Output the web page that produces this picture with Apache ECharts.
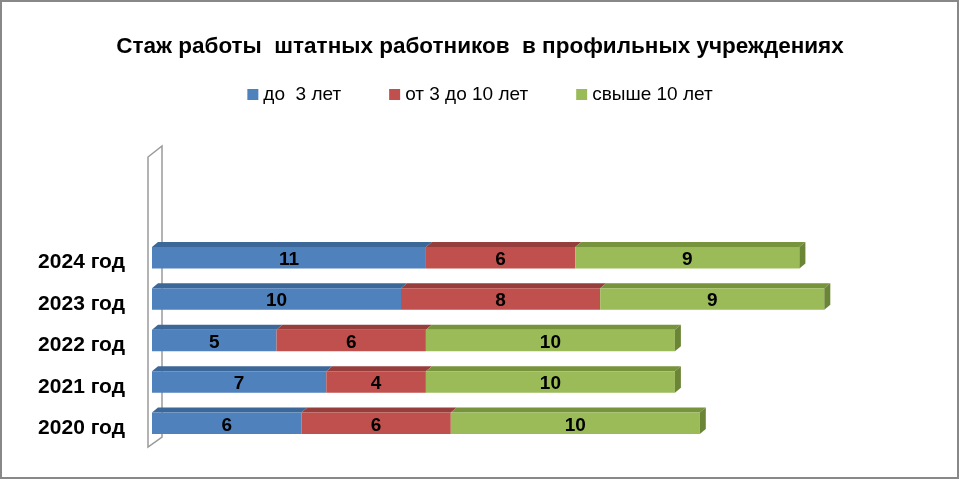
<!DOCTYPE html>
<html>
<head>
<meta charset="utf-8">
<script src="https://cdn.jsdelivr.net/npm/echarts@6/dist/echarts.min.js"></script>
<style>html,body{margin:0;padding:0;background:#fff;}#c{width:960px;height:480px;}</style>
</head>
<body>
<div id="c"></div>
<script>
var categories = ['2020 год', '2021 год', '2022 год', '2023 год', '2024 год'];
var seriesNames = ['до  3 лет', 'от 3 до 10 лет', 'свыше 10 лет'];
var under3 = [6, 7, 5, 10, 11];
var from3to10 = [6, 4, 6, 8, 6];
var over10 = [10, 10, 10, 9, 9];

var values = [under3, from3to10, over10];
var frontColors = ['#4F81BD', '#C0504D', '#9BBB59'];
var topColors = ['#3C6799', '#963E3C', '#77933C'];
var sideColor = '#6B8537';
var FONT = 'Liberation Sans, Arial, sans-serif';
var DX = 6, DY = 5;

function buildData(si) {
  var out = [];
  for (var i = 0; i < categories.length; i++) {
    var start = 0;
    for (var k = 0; k < si; k++) start += values[k][i];
    out.push([i, start, start + values[si][i], values[si][i]]);
  }
  return out;
}

function makeRender(si) {
  return function (params, api) {
    var cat = api.value(0), s = api.value(1), e = api.value(2), v = api.value(3);
    var p0 = api.coord([s, cat]);
    var p1 = api.coord([e, cat]);
    var band = api.size([0, 1])[1];
    var h = band * 0.52;
    var yTop = p0[1] - h / 2, yBot = p0[1] + h / 2;
    var children = [
      { type: 'polygon', shape: { points: [[p0[0], yTop], [p0[0] + DX, yTop - DY], [p1[0] + DX, yTop - DY], [p1[0], yTop]] },
        style: { fill: topColors[si] } },
      { type: 'rect', shape: { x: p0[0], y: yTop, width: p1[0] - p0[0], height: h },
        style: { fill: frontColors[si] } }
    ];
    if (si === values.length - 1) {
      children.push({ type: 'polygon', shape: { points: [[p1[0], yTop], [p1[0] + DX, yTop - DY], [p1[0] + DX, yBot - DY], [p1[0], yBot]] },
        style: { fill: sideColor } });
    }
    children.push({ type: 'text', style: { text: String(v), x: (p0[0] + p1[0]) / 2, y: p0[1] + 2,
      align: 'center', verticalAlign: 'middle', fill: '#000', font: 'bold 19px ' + FONT } });
    return { type: 'group', children: children };
  };
}

var series = [];
for (var si = 0; si < seriesNames.length; si++) {
  series.push({
    name: seriesNames[si],
    type: 'custom',
    renderItem: makeRender(si),
    encode: { x: [1, 2], y: 0 },
    itemStyle: { color: frontColors[si] },
    data: buildData(si),
    z: 5
  });
}

var chart = echarts.init(document.getElementById('c'), null, { renderer: 'canvas' });
chart.setOption({
  animation: false,
  backgroundColor: '#fff',
  title: {
    text: 'Стаж работы  штатных работников  в профильных учреждениях',
    left: 'center', top: 30,
    textStyle: { fontFamily: FONT, fontSize: 22.5, fontWeight: 'bold', color: '#000' }
  },
  legend: {
    top: 80, left: 'center',
    icon: 'rect', itemWidth: 11, itemHeight: 11, itemGap: 48,
    textStyle: { fontFamily: FONT, fontSize: 19, color: '#000' },
    data: seriesNames
  },
  grid: { left: 152, top: 237, width: 747, height: 207 },
  xAxis: { type: 'value', min: 0, max: 30, show: false },
  yAxis: {
    type: 'category', data: categories,
    axisLine: { show: false }, axisTick: { show: false }, splitLine: { show: false },
    axisLabel: { margin: 27, verticalAlign: 'top', lineHeight: 10, fontFamily: FONT, fontSize: 21, fontWeight: 'bold', color: '#000' }
  },
  graphic: [
    { type: 'rect', z: -10, shape: { x: 1, y: 1, width: 957, height: 477 },
      style: { fill: 'none', stroke: '#888888', lineWidth: 2 } },
    { type: 'polygon', z: -5, shape: { points: [[148, 157], [162, 146], [162, 437], [148, 447]] },
      style: { fill: '#fff', stroke: '#9a9a9a', lineWidth: 1.5 } }
  ],
  series: series
});
</script>
</body>
</html>
